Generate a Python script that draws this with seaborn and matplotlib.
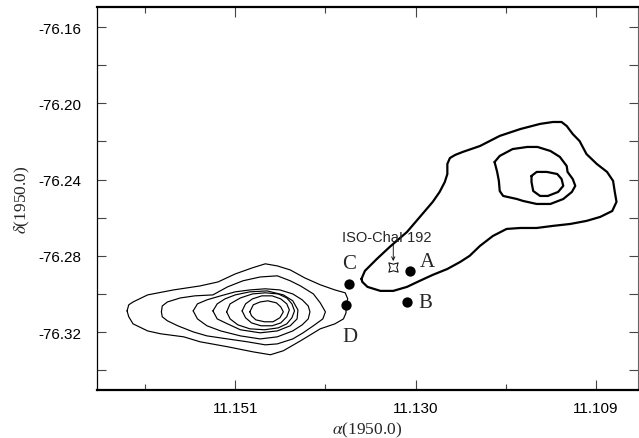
import numpy as np
import pandas as pd
import matplotlib
matplotlib.use("Agg")
import matplotlib.pyplot as plt
import seaborn as sns
from matplotlib.ticker import FixedLocator, FixedFormatter

# ---------------- data (RA, Dec as on the axes) ----------------
# Left cloud: thin contours, outermost (L1) to innermost (L7)
L1_ra = [11.1636, 11.1634, 11.1629, 11.1612, 11.1582, 11.1551, 11.1530, 11.1510, 11.1490, 11.1475,
         11.1461, 11.1446, 11.1429, 11.1411, 11.1394, 11.1382, 11.1379, 11.1381, 11.1381, 11.1384,
         11.1394, 11.1411, 11.1434, 11.1454, 11.1469, 11.1489, 11.1519, 11.1551, 11.1570, 11.1597,
         11.1612, 11.1629, 11.1634, 11.1636]
L1_dec = [-76.3089, -76.3057, -76.3042, -76.3005, -76.2979, -76.2958, -76.2937, -76.2895, -76.2863, -76.2842,
          -76.2853, -76.2874, -76.2916, -76.2952, -76.2979, -76.2994, -76.3026, -76.3057, -76.3099, -76.3131,
          -76.3157, -76.3183, -76.3246, -76.3298, -76.3319, -76.3304, -76.3277, -76.3251, -76.3225, -76.3209,
          -76.3194, -76.3157, -76.3120, -76.3089]
L2_ra = [11.1596, 11.1595, 11.1589, 11.1574, 11.1557, 11.1536, 11.1519, 11.1501, 11.1481, 11.1461,
         11.1446, 11.1434, 11.1419, 11.1411, 11.1405, 11.1408, 11.1419, 11.1431, 11.1443, 11.1461,
         11.1475, 11.1496, 11.1519, 11.1543, 11.1559, 11.1577, 11.1589, 11.1595, 11.1596]
L2_dec = [-76.3094, -76.3063, -76.3042, -76.3021, -76.3010, -76.3005, -76.2963, -76.2931, -76.2911, -76.2905,
          -76.2931, -76.2958, -76.3000, -76.3047, -76.3094, -76.3131, -76.3167, -76.3204, -76.3236, -76.3262,
          -76.3267, -76.3251, -76.3236, -76.3220, -76.3199, -76.3167, -76.3141, -76.3120, -76.3094]
L3_ra = [11.1559, 11.1554, 11.1543, 11.1527, 11.1510, 11.1493, 11.1475, 11.1458, 11.1443, 11.1432,
         11.1425, 11.1423, 11.1425, 11.1432, 11.1443, 11.1461, 11.1481, 11.1504, 11.1527, 11.1543,
         11.1554, 11.1559]
L3_dec = [-76.3089, -76.3052, -76.3031, -76.3010, -76.2989, -76.2979, -76.2973, -76.2979, -76.3000, -76.3031,
          -76.3063, -76.3094, -76.3131, -76.3162, -76.3194, -76.3225, -76.3236, -76.3220, -76.3194, -76.3167,
          -76.3131, -76.3089]
L4_ra = [11.1536, 11.1531, 11.1522, 11.1510, 11.1493, 11.1473, 11.1454, 11.1443, 11.1437, 11.1438,
         11.1446, 11.1461, 11.1481, 11.1504, 11.1519, 11.1531, 11.1536]
L4_dec = [-76.3089, -76.3052, -76.3026, -76.3005, -76.2989, -76.2984, -76.3005, -76.3036, -76.3084, -76.3131,
          -76.3167, -76.3194, -76.3204, -76.3188, -76.3157, -76.3131, -76.3089]
L5_ra = [11.1520, 11.1516, 11.1504, 11.1490, 11.1475, 11.1460, 11.1450, 11.1444, 11.1441, 11.1444,
         11.1450, 11.1460, 11.1476, 11.1493, 11.1507, 11.1516, 11.1520]
L5_dec = [-76.3094, -76.3052, -76.3021, -76.3000, -76.2994, -76.3000, -76.3021, -76.3052, -76.3089, -76.3125,
          -76.3157, -76.3178, -76.3188, -76.3183, -76.3162, -76.3131, -76.3094]
L6_ra = [11.1502, 11.1498, 11.1490, 11.1479, 11.1467, 11.1457, 11.1450, 11.1447, 11.1450, 11.1457,
         11.1467, 11.1480, 11.1491, 11.1498, 11.1502]
L6_dec = [-76.3089, -76.3052, -76.3026, -76.3010, -76.3010, -76.3026, -76.3052, -76.3084, -76.3120, -76.3152,
          -76.3167, -76.3167, -76.3152, -76.3125, -76.3089]
L7_ra = [11.1493, 11.1489, 11.1481, 11.1472, 11.1462, 11.1457, 11.1454, 11.1458, 11.1466, 11.1476,
         11.1486, 11.1491, 11.1493]
L7_dec = [-76.3094, -76.3057, -76.3042, -76.3036, -76.3047, -76.3068, -76.3094, -76.3125, -76.3146, -76.3146,
          -76.3136, -76.3115, -76.3094]

# Right cloud: thick contours, outermost (R1) to innermost (R3)
R1_ra = [11.1363, 11.1359, 11.1345, 11.1330, 11.1310, 11.1295, 11.1280, 11.1272, 11.1266, 11.1263,
         11.1263, 11.1260, 11.1254, 11.1245, 11.1225, 11.1202, 11.1178, 11.1155, 11.1140, 11.1130,
         11.1124, 11.1117, 11.1109, 11.1101, 11.1089, 11.1077, 11.1070, 11.1068, 11.1066, 11.1071,
         11.1085, 11.1101, 11.1120, 11.1140, 11.1159, 11.1178, 11.1194, 11.1210, 11.1225, 11.1237,
         11.1248, 11.1263, 11.1280, 11.1295, 11.1310, 11.1326, 11.1341, 11.1356, 11.1362]
R1_dec = [-76.2921, -76.2879, -76.2816, -76.2753, -76.2675, -76.2596, -76.2517, -76.2465, -76.2413, -76.2371,
          -76.2318, -76.2287, -76.2271, -76.2255, -76.2224, -76.2171, -76.2135, -76.2108, -76.2098, -76.2098,
          -76.2119, -76.2161, -76.2198, -76.2266, -76.2318, -76.2360, -76.2407, -76.2465, -76.2517, -76.2565,
          -76.2596, -76.2617, -76.2633, -76.2643, -76.2654, -76.2654, -76.2659, -76.2696, -76.2748, -76.2800,
          -76.2832, -76.2869, -76.2900, -76.2931, -76.2963, -76.2984, -76.2984, -76.2963, -76.2937]
R2_ra = [11.1208, 11.1202, 11.1187, 11.1170, 11.1158, 11.1143, 11.1132, 11.1124, 11.1123, 11.1117,
         11.1114, 11.1118, 11.1128, 11.1143, 11.1159, 11.1175, 11.1182, 11.1198, 11.1202, 11.1203,
         11.1205]
R2_dec = [-76.2308, -76.2276, -76.2240, -76.2229, -76.2229, -76.2250, -76.2281, -76.2329, -76.2360, -76.2397,
          -76.2433, -76.2465, -76.2502, -76.2528, -76.2528, -76.2512, -76.2502, -76.2486, -76.2460, -76.2407,
          -76.2360]
R3_ra = [11.1165, 11.1159, 11.1147, 11.1135, 11.1130, 11.1128, 11.1134, 11.1146, 11.1155, 11.1163, 11.1165]
R3_dec = [-76.2381, -76.2360, -76.2360, -76.2371, -76.2397, -76.2433, -76.2465, -76.2486, -76.2486, -76.2460,
          -76.2413]

# Sources
src_names = ["A", "B", "C", "D"]
src_ra = [11.1306, 11.1310, 11.1378, 11.1381]
src_dec = [-76.2878, -76.3043, -76.2949, -76.3057]
star_name = "ISO-ChaI 192"
star_ra = [11.1326]
star_dec = [-76.2860]

# Axes
x_major = [11.151, 11.130, 11.109]
x_major_labels = ["11.151", "11.130", "11.109"]
x_minor = [11.1615, 11.1405, 11.1195]
y_major = [-76.16, -76.20, -76.24, -76.28, -76.32]
y_major_labels = ["-76.16", "-76.20", "-76.24", "-76.28", "-76.32"]
y_minor = [-76.18, -76.22, -76.26, -76.30, -76.34]
x_lim = (11.1671, 11.1041)
y_lim = (-76.3504, -76.1495)
x_label = r"$\alpha$(1950.0)"
y_label = r"$\delta$(1950.0)"

# ---------------- build tables ----------------
def contour_table(pairs, prefix):
    frames = []
    for i, (ra, dec) in enumerate(pairs):
        ra_c = list(ra) + [ra[0]]
        dec_c = list(dec) + [dec[0]]
        frames.append(pd.DataFrame({"ra": ra_c, "dec": dec_c, "level": f"{prefix}{i + 1}"}))
    return pd.concat(frames, ignore_index=True)

left_df = contour_table([(L1_ra, L1_dec), (L2_ra, L2_dec), (L3_ra, L3_dec), (L4_ra, L4_dec),
                         (L5_ra, L5_dec), (L6_ra, L6_dec), (L7_ra, L7_dec)], "L")
right_df = contour_table([(R1_ra, R1_dec), (R2_ra, R2_dec), (R3_ra, R3_dec)], "R")
src_df = pd.DataFrame({"name": src_names, "ra": src_ra, "dec": src_dec})
star_df = pd.DataFrame({"ra": star_ra, "dec": star_dec})

# ---------------- plot ----------------
sns.set_style("ticks")
plt.rcParams["font.family"] = ["Liberation Sans", "DejaVu Sans"]
plt.rcParams["axes.unicode_minus"] = False
plt.rcParams["mathtext.fontset"] = "stix"

fig = plt.figure(figsize=(6.39, 4.39), dpi=100)
ax = fig.add_axes([0.1518, 0.1093, 0.8466, 0.8724])

sns.lineplot(data=left_df, x="ra", y="dec", units="level", estimator=None, sort=False,
             color="black", linewidth=0.85, legend=False, ax=ax)
sns.lineplot(data=right_df, x="ra", y="dec", units="level", estimator=None, sort=False,
             color="black", linewidth=1.6, legend=False, ax=ax)
sns.scatterplot(data=src_df, x="ra", y="dec", color="black", s=55, edgecolor="black",
                linewidth=0, legend=False, ax=ax, zorder=5)
sns.scatterplot(data=star_df, x="ra", y="dec", marker=(4, 1, 45), s=90, facecolor="white",
                edgecolor="black", linewidth=0.7, legend=False, ax=ax, zorder=5)

letter_offsets = {"A": (12, 6.5), "B": (13, 0), "C": (0.5, 15), "D": (3, -23)}
for n, r, d in zip(src_names, src_ra, src_dec):
    ax.annotate(n, xy=(r, d), xytext=letter_offsets[n], textcoords="offset points",
                ha="center", va="center", fontsize=15, family=["Liberation Serif", "DejaVu Serif"])

ax.annotate(star_name, xy=(star_ra[0], star_dec[0]), xytext=(-5, 22), textcoords="offset points",
            ha="center", va="center", fontsize=10.5)
ax.annotate("", xy=(star_ra[0], star_dec[0]), xytext=(0, 16), textcoords="offset points",
            arrowprops=dict(arrowstyle="->", lw=0.6, color="black", shrinkA=0, shrinkB=4.5,
                            mutation_scale=6))

ax.set_xlim(*x_lim)
ax.set_ylim(*y_lim)
ax.xaxis.set_major_locator(FixedLocator(x_major))
ax.xaxis.set_major_formatter(FixedFormatter(x_major_labels))
ax.xaxis.set_minor_locator(FixedLocator(x_minor))
ax.yaxis.set_major_locator(FixedLocator(y_major))
ax.yaxis.set_major_formatter(FixedFormatter(y_major_labels))
ax.yaxis.set_minor_locator(FixedLocator(y_minor))

ax.tick_params(which="both", direction="in", top=True, right=True, color="#444444", width=0.8,
               labelsize=11, labelcolor="black")
ax.tick_params(axis="x", which="major", length=7.5, pad=8)
ax.tick_params(axis="x", which="minor", length=4)
ax.tick_params(axis="y", which="both", length=6.5, pad=11)

ax.set_xlabel(x_label, fontsize=12.5, family=["Liberation Serif", "DejaVu Serif"])
ax.set_ylabel(y_label, fontsize=12.5, family=["Liberation Serif", "DejaVu Serif"])
ax.xaxis.set_label_coords(0.499, -0.078)
ax.yaxis.set_label_coords(-0.12, 0.5)

for side in ["top", "bottom"]:
    ax.spines[side].set_linewidth(1.6)
    ax.spines[side].set_color("black")
ax.spines["left"].set_linewidth(0.9)
ax.spines["left"].set_color("black")
ax.spines["right"].set_linewidth(0.8)
ax.spines["right"].set_color("#666666")

fig.savefig("out.png", dpi=100)
